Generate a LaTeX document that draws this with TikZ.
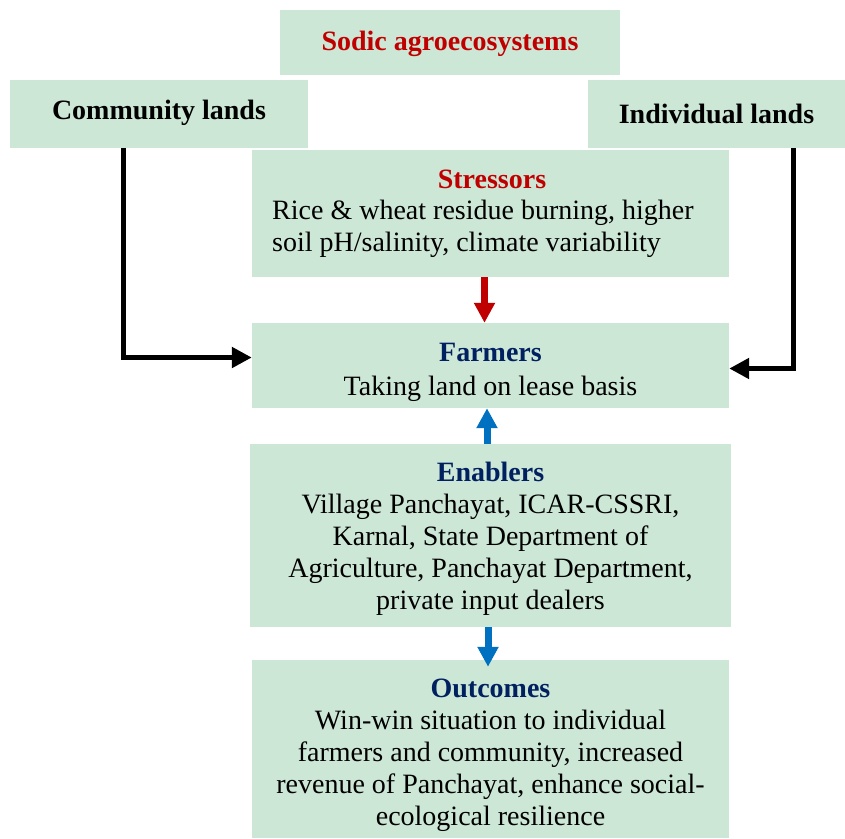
\documentclass[tikz,border=0pt]{standalone}
\usepackage{fontspec}
\setmainfont{Liberation Serif}
\usetikzlibrary{arrows.meta}
\definecolor{boxgreen}{RGB}{205,231,214}
\definecolor{hdred}{RGB}{192,0,0}
\definecolor{hdblue}{RGB}{0,32,96}
\definecolor{arrblue}{RGB}{0,112,192}
\begin{document}
\begin{tikzpicture}[x=1pt,y=-1pt,
  box/.style={fill=boxgreen,draw=none,inner sep=0pt},
  txt/.style={inner sep=0pt,align=center,font=\fontsize{28}{32}\selectfont},
  blk/.style={draw=black,line width=5pt,-{Triangle[length=20pt,width=20pt]}},
  redarr/.style={draw=hdred,line width=7pt,-{Triangle[length=20pt,width=20pt]}},
  bluearr/.style={draw=arrblue,line width=7pt,-{Triangle[length=20pt,width=20pt]}}]
\useasboundingbox (0,0) rectangle (845,838);
% boxes
\node[box,minimum width=340pt,minimum height=65pt] (sodic) at (450,42.5) {};
\node[box,minimum width=298pt,minimum height=68pt] (comm) at (159,114) {};
\node[box,minimum width=257pt,minimum height=68pt] (indiv) at (716.5,114) {};
\node[box,minimum width=477pt,minimum height=127pt] (stress) at (490.5,213.5) {};
\node[box,minimum width=477pt,minimum height=85pt] (farm) at (490.5,365.5) {};
\node[box,minimum width=481pt,minimum height=183pt] (enab) at (490.5,535.5) {};
\node[box,minimum width=477pt,minimum height=178pt] (out) at (490.5,749) {};
% texts
\node[txt,text=hdred,font=\fontsize{28}{32}\selectfont\bfseries] (sodict) at (450,44) {Sodic agroecosystems};
\node[txt,font=\fontsize{28}{32}\selectfont\bfseries] (commt) at (159,113) {Community lands};
\node[txt,font=\fontsize{28}{32}\selectfont\bfseries] (indivt) at (716.5,114) {Individual lands};
\node[txt,text=hdred,font=\fontsize{28}{32}\selectfont\bfseries] (stressh) at (492,179) {Stressors};
\node[txt,align=left,anchor=west] (stresst) at (272,229)
  {Rice \& wheat residue burning, higher\\ soil pH/salinity, climate variability};
\node[txt,font=\fontsize{28}{34}\selectfont] (farmt) at (490.5,372.5)
  {\textcolor{hdblue}{\bfseries Farmers}\\ Taking land on lease basis};
\node[txt] (enabt) at (490.5,538.5)
  {\textcolor{hdblue}{\bfseries Enablers}\\ Village Panchayat, ICAR-CSSRI,\\
   Karnal, State Department of\\ Agriculture, Panchayat Department,\\
   private input dealers};
\node[txt] (outt) at (490.5,755)
  {\textcolor{hdblue}{\bfseries Outcomes}\\ Win-win situation to individual\\
   farmers and community, increased\\ revenue of Panchayat, enhance social-\\
   ecological resilience};
% connectors
\draw[blk] ([xshift=114pt]comm.south west) |- ([yshift=8pt]farm.west);
\draw[blk] ([xshift=206pt]indiv.south west) |- ([yshift=-3pt]farm.east);
\draw[redarr] ([xshift=-6pt]stress.south) -- ([xshift=-6pt]farm.north);
\draw[bluearr] ([xshift=-3.5pt]enab.north) -- ([xshift=-3.5pt]farm.south);
\draw[bluearr,shorten >=-7pt] ([xshift=-2.5pt]enab.south) -- ([xshift=-2.5pt]out.north);
\end{tikzpicture}
\end{document}
